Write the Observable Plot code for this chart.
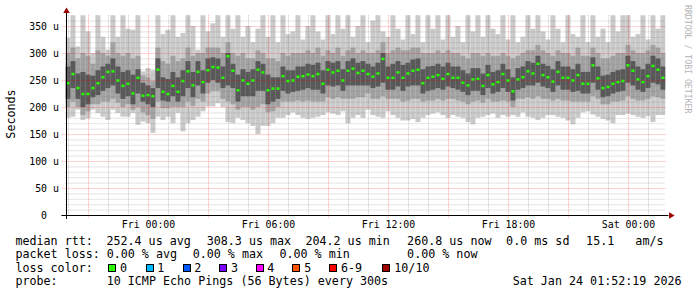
<!DOCTYPE html>
<html><head><meta charset="utf-8">
<script src="https://cdn.jsdelivr.net/npm/d3@7"></script>
<script src="https://cdn.jsdelivr.net/npm/@observablehq/plot@0.6"></script>
<style>
html,body{margin:0;padding:0;background:#fff;}
#chart svg text{font-family:"DejaVu Sans Mono",monospace;}
</style></head><body><div id="chart"></div>
<script>
// time window (30 h, 15-minute columns)
const START = Date.UTC(2026, 0, 22, 19, 52, 19);
const END = Date.UTC(2026, 0, 24, 1, 52, 19);
const STEP_MS = 15 * 60 * 1000;

// smoke: outer band (min..max), middle band (lo..hi), inner band (lo2..hi2), median (all in µs)
const mx = [328,375,312,375,340,300,375,330,306,375, 330,375,345,343,375,266,272,268,375,335,
  343,375,330,337,375,350,306,375,340,355, 375,330,375,345,375,330,350,320,345,375,
  330,375,320,375,335,340,375,325,350,375, 340,325,375,335,375,345,375,330,350,375,
  320,360,375,340,330,375,345,325,375,335, 375,320,375,345,375,325,375,330,350,320,
  375,340,375,330,375,345,335,375,325,375, 320,330,375,345,375,340,325,375,345,320,
  375,335,330,375,320,375,330,345,320,375, 340,375,375,330,335,375,325,375,345,375];
const hi = [300,310,290,300,295,280,305,300,295,320, 300,295,300,290,295,258,255,248,310,285,
  280,295,285,290,310,295,300,300,310,310, 310,300,320,300,295,300,290,290,305,300,
  290,290,285,300,295,300,300,300,305,300, 310,295,305,300,310,295,305,310,300,305,
  300,300,305,320,300,305,310,305,305,310, 310,300,300,300,305,300,305,300,300,295,
  290,300,300,295,300,295,295,300,295,290, 295,300,305,305,315,305,300,295,305,300,
  300,295,310,295,295,310,300,290,290,295, 300,300,315,305,300,300,305,315,310,300];
const hi2 = [275,285,262,265,260,258,268,275,280,290, 275,265,268,260,270,245,240,235,290,255,
  252,265,255,268,285,265,285,268,290,292, 290,275,300,280,260,270,265,270,285,280,
  260,255,255,275,268,268,275,275,280,278, 282,268,285,282,285,270,285,290,282,285,
  280,275,282,300,275,280,285,278,282,288, 290,270,275,276,280,275,282,275,275,268,
  262,272,272,262,278,265,268,280,270,255, 272,275,285,282,295,280,276,270,285,275,
  275,270,280,265,265,292,275,258,260,265, 268,270,295,285,275,270,280,295,290,275];
const med = [245,262,236,225,225,236,245,256,266,267, 250,240,244,226,255,222,223,221,270,229,
  225,240,229,249,267,241,266,247,269,275, 274,255,295,268,232,250,244,250,270,265,
  232,235,235,258,249,250,257,258,261,258, 262,244,270,265,268,250,268,272,264,268,
  262,257,263,290,255,255,265,255,263,268, 270,245,255,257,260,253,262,255,255,246,
  241,252,253,240,260,243,247,262,250,230, 252,256,267,263,281,260,256,248,266,255,
  255,250,260,244,244,278,254,236,238,244, 247,249,278,268,252,247,258,277,270,255];
const lo2 = [215,235,215,200,205,218,222,230,235,240, 225,215,220,205,225,210,205,200,235,212,
  210,220,210,220,235,218,240,225,245,250, 245,235,240,235,210,220,220,220,230,230,
  205,210,215,230,225,228,230,232,235,232, 232,225,240,238,240,230,240,240,240,240,
  240,235,238,245,232,232,238,230,238,240, 240,225,230,232,235,232,238,235,232,228,
  222,230,230,222,235,225,228,235,228,212, 232,235,240,240,245,238,235,228,240,232,
  232,228,230,225,225,245,232,218,220,225, 228,230,245,240,232,228,235,245,242,232];
const lo = [200,210,200,185,192,205,205,210,210,215, 208,200,205,195,200,190,185,178,210,198,
  198,200,200,200,210,202,215,210,225,230, 230,215,210,205,195,200,200,195,200,205,
  190,192,200,210,210,210,212,210,212,210, 210,210,218,215,218,215,215,215,218,218,
  225,215,215,220,215,215,215,210,212,215, 215,210,212,212,215,212,215,215,212,210,
  205,210,212,208,215,210,210,212,210,200, 215,215,218,215,220,215,215,212,215,212,
  212,210,210,210,210,220,215,205,205,210, 210,212,220,215,212,212,215,220,218,215];
const mn = [180,182,195,176,179,195,189,182,176,195, 189,182,182,189,167,173,170,152,182,176,
  182,170,189,155,170,176,182,192,201,201, 207,200,172,170,180,176,170,165,150,165,
  165,170,180,180,185,190,185,180,178,180, 182,185,190,188,185,192,170,180,185,180,
  195,185,182,180,192,185,180,175,175,178, 172,180,185,188,190,185,180,185,182,180,
  172,168,180,182,185,188,180,185,182,185, 182,190,182,180,176,180,185,185,182,180,
  175,168,180,190,192,186,182,178,175,170, 185,185,188,185,182,180,183,172,185,185];

// axes
const xTickTimes = [Date.UTC(2026,0,23,0), Date.UTC(2026,0,23,6), Date.UTC(2026,0,23,12), Date.UTC(2026,0,23,18), Date.UTC(2026,0,24,0)];
const xTickLabels = ["Fri 00:00", "Fri 06:00", "Fri 12:00", "Fri 18:00", "Sat 00:00"];
const yTicks = [0, 50, 100, 150, 200, 250, 300, 350];
const yTickLabels = ["0\u00a0\u00a0", "50 u", "100 u", "150 u", "200 u", "250 u", "300 u", "350 u"];
const yMinor = [10,20,30,40,60,70,80,90,110,120,130,140,160,170,180,190,210,220,230,240,260,270,280,290,310,320,330,340,360];
const yMajor = [50,100,150,200,250,300,350];

// legend
const lossColors = ["#26ff00","#00b8ff","#0059ff","#7e00ff","#ff00ff","#ff5500","#ff0000","#a10000"];
const lossLabels = ["0","1","2","3","4","5","6-9","10/10"];
const statsRtt = ["252.4 us avg", "308.3 us max", "204.2 us min", "260.8 us now", "0.0 ms sd", "15.1   am/s"];
const statsLoss = ["0.00 % avg", "0.00 % max", "0.00 % min", "0.00 % now"];
const probeText = "10 ICMP Echo Pings (56 Bytes) every 300s";
const stampText = "Sat Jan 24 01:52:19 2026";

const rows = med.map((m, i) => ({
  t1: new Date(START + i * STEP_MS), t2: new Date(START + (i + 1) * STEP_MS),
  med: m, mn: mn[i], mx: mx[i], lo: lo[i], hi: hi[i], lo2: lo2[i], hi2: hi2[i]
}));
const hours = d3.utcHour.range(new Date(START), new Date(END));
const majorHours = hours.filter(d => d.getUTCHours() % 3 === 0);
const minorHours = hours.filter(d => d.getUTCHours() % 3 !== 0);

const plot = Plot.plot({
  width: 697, height: 297,
  marginLeft: 65.44, marginRight: 31.56, marginTop: 15.2, marginBottom: 82,
  style: {fontFamily: "DejaVu Sans Mono", fontSize: "9.9px", background: "#fff", overflow: "visible", color: "#000"},
  x: {type: "utc", domain: [new Date(START), new Date(END)]},
  y: {domain: [0, 370]},
  marks: [
    Plot.rect(rows, {x1: "t1", x2: "t2", y1: "mn", y2: "mx", fill: "#cacaca", clip: true}),
    Plot.rect(rows, {x1: "t1", x2: "t2", y1: "lo", y2: "hi", fill: "#a2a2a2", clip: true}),
    Plot.rect(rows, {x1: "t1", x2: "t2", y1: "lo2", y2: "hi2", fill: "#585858", clip: true}),
    Plot.ruleY(yMinor, {stroke: "#7a7a7a", strokeOpacity: 0.4, strokeDasharray: "1,1"}),
    Plot.ruleX(minorHours, {stroke: "#7a7a7a", strokeOpacity: 0.4, strokeDasharray: "1,1"}),
    Plot.ruleY(yMajor, {stroke: "#ff0000", strokeOpacity: 0.35, strokeDasharray: "1,1", insetLeft: -3}),
    Plot.ruleX(majorHours, {stroke: "#ff0000", strokeOpacity: 0.35, strokeDasharray: "1,1", insetBottom: -3}),
    Plot.ruleY(rows, {y: "med", x1: "t1", x2: "t2", stroke: "#26ff00", strokeWidth: 2.5, insetLeft: 1, insetRight: 1}),
    Plot.ruleY([0], {stroke: "#000", insetLeft: -4, insetRight: -3}),
    Plot.ruleX([new Date(START)], {stroke: "#000", dx: 0.56, insetTop: -6, insetBottom: -4}),
    Plot.dot([0], {x: () => new Date(START), y: () => 370, symbol: "triangle", r: 2.4, fill: "#990000", stroke: "none", dx: 0.56, dy: -4.5}),
    Plot.dot([0], {x: () => new Date(END), y: () => 0, symbol: "triangle", r: 2.4, rotate: 90, fill: "#990000", stroke: "none", dx: 5}),
    Plot.axisY({ticks: yTicks, tickFormat: (d) => yTickLabels[yTicks.indexOf(d)], tickSize: 0, tickPadding: 7, label: null, fontSize: "9.9px"}),
    Plot.axisX({ticks: xTickTimes.map(t => new Date(t)), tickFormat: (d) => xTickLabels[xTickTimes.indexOf(+d)], tickSize: 0, tickPadding: 5.5, label: null, fontSize: "9.9px"})
  ]
});

const svg = d3.select(plot);
const g = svg.append("g")
  .attr("font-family", "DejaVu Sans Mono").attr("font-size", "11.7px").attr("fill", "#000")
  .attr("text-anchor", "start").style("white-space", "pre");
function txt(x, y, s) { g.append("text").attr("x", x).attr("y", y).attr("text-anchor", "start").attr("xml:space", "preserve").text(s); }

// y unit label & watermark
svg.append("text").attr("transform", "translate(15,114) rotate(-90)").attr("text-anchor", "middle")
  .attr("font-family", "DejaVu Sans Mono").attr("font-size", "11.7px").attr("fill", "#000").text("Seconds");
svg.append("text").attr("transform", "translate(685,5) rotate(90)").attr("text-anchor", "start")
  .attr("font-family", "DejaVu Sans Mono").attr("font-size", "8.2px").attr("fill", "#b4b4b4").text("RRDTOOL / TOBI OETIKER");

// legend lines
const rttX = [106.4, 206.7, 305.4, 407.1, 506.1, 586.1];
txt(15.4, 244.5, "median rtt:");
statsRtt.forEach((s, i) => txt(rttX[i], 244.5, s));
const lossX = [106.7, 192.7, 279.4, 407.1];
txt(15.4, 258, "packet loss:");
statsLoss.forEach((s, i) => txt(lossX[i], 258, s));
txt(15.4, 271.5, "loss color:");
const boxX = [108, 146, 183, 219, 256, 292, 329, 382];
const labX = [120, 157.3, 194.3, 231, 267.3, 304.3, 341, 394.3];
lossColors.forEach((c, i) => {
  g.append("rect").attr("x", boxX[i] + 0.5).attr("y", 264.5).attr("width", 7).attr("height", 7)
    .attr("fill", c).attr("stroke", "#000").attr("stroke-width", 1);
  txt(labX[i], 271.5, lossLabels[i]);
});
txt(15.4, 285, "probe:");
txt(106.7, 285, probeText);
txt(512.7, 285, stampText);

document.getElementById("chart").append(plot);
</script></body></html>
